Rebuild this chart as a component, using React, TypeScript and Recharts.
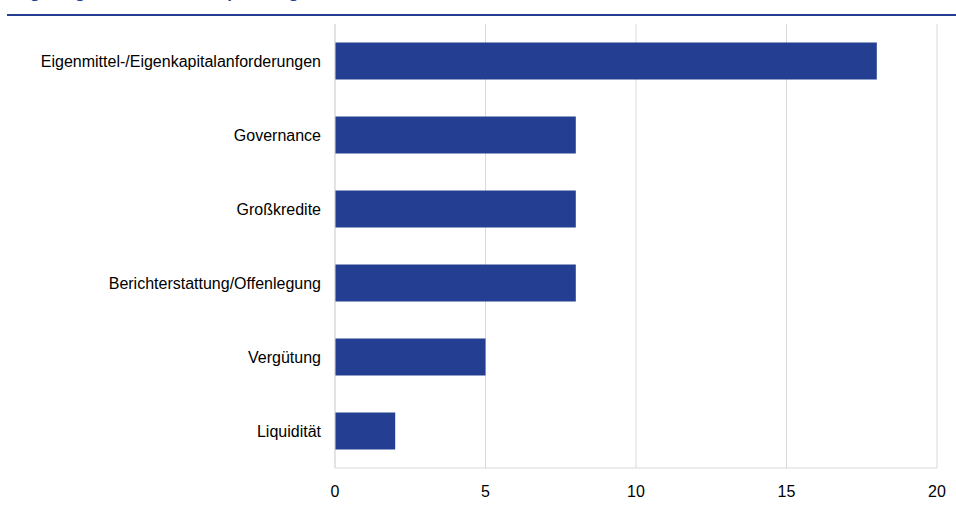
import React from "react";
import { BarChart, Bar, XAxis, YAxis, CartesianGrid } from "recharts";

const categories = [
  "Eigenmittel-/Eigenkapitalanforderungen",
  "Governance",
  "Großkredite",
  "Berichterstattung/Offenlegung",
  "Vergütung",
  "Liquidität",
];
const values = [18, 8, 8, 8, 5, 2];
const xTicks = [0, 5, 10, 15, 20];
const title = "Regelungsbereiche der Empfehlungen";

const data = categories.map((c, i) => ({ name: c, value: values[i] }));

const BLUE = "#243F91";
const FONT = "Liberation Sans, Arial, sans-serif";

export default function App() {
  return (
    <div style={{ position: "absolute", left: 0, top: 0, width: 956, height: 509, background: "#fff", overflow: "hidden", fontFamily: FONT }}>
      <div style={{ position: "absolute", left: 8, top: -17.5, fontSize: 17, fontWeight: "bold", color: BLUE, whiteSpace: "nowrap", lineHeight: "20px" }}>
        {title}
      </div>
      <div style={{ position: "absolute", left: 7, top: 14, width: 949, height: 2, background: BLUE }} />
      <div style={{ position: "absolute", left: 0, top: 0 }}>
        <BarChart
          width={956}
          height={509}
          data={data}
          layout="vertical"
          margin={{ top: 24, right: 19, bottom: 0, left: 0 }}
          barCategoryGap="25%"
        >
          <CartesianGrid horizontal={false} vertical={true} stroke="#D9D9D9" />
          <XAxis
            type="number"
            domain={[0, 20]}
            ticks={xTicks}
            axisLine={{ stroke: "#D9D9D9" }}
            tickLine={false}
            tickMargin={12}
            height={41}
            tick={{ fill: "#000", fontSize: 16, fontFamily: FONT }}
          />
          <YAxis
            type="category"
            dataKey="name"
            width={335}
            axisLine={{ stroke: "#D9D9D9" }}
            tickLine={false}
            tickMargin={8}
            tick={{ fill: "#000", fontSize: 16, fontFamily: FONT }}
          />
          <Bar dataKey="value" fill={BLUE} isAnimationActive={false} />
        </BarChart>
      </div>
    </div>
  );
}
